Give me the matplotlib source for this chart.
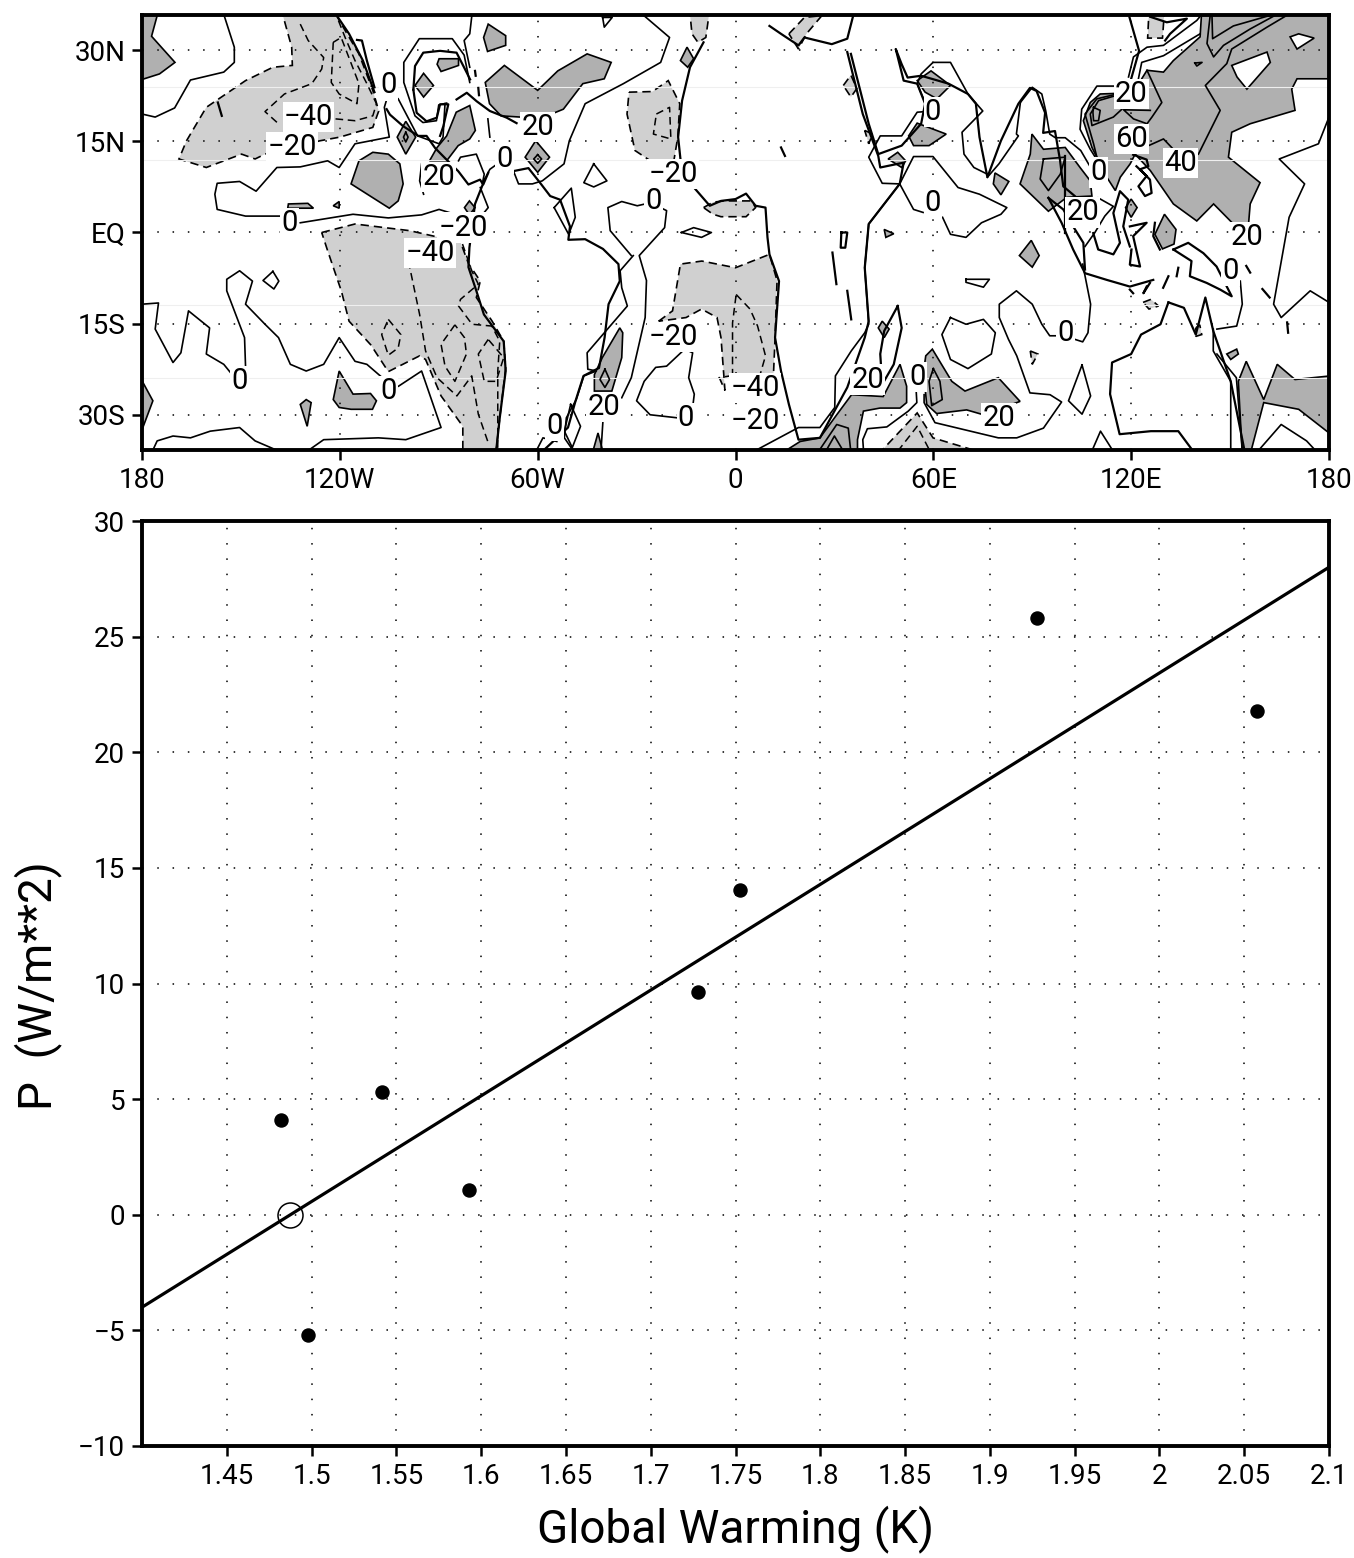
import matplotlib
matplotlib.use("Agg")
import matplotlib.pyplot as plt
from matplotlib.ticker import FixedLocator, NullLocator

plt.rcParams['font.family'] = ['Roboto', 'DejaVu Sans']

W, H = 1354, 1558

# ---------- scatter data ----------
warming = [1.482, 1.498, 1.5415, 1.593, 1.728, 1.7527, 1.928, 2.0575]
power = [4.1, -5.2, 5.3, 1.05, 9.65, 14.05, 25.8, 21.8]
mean_warming = [1.487]
mean_power = [0.0]
fit_x = [1.4, 2.1]
fit_y = [-4.0, 28.0]
xticks_val = [1.45, 1.5, 1.55, 1.6, 1.65, 1.7, 1.75, 1.8, 1.85, 1.9, 1.95, 2.0, 2.05, 2.1]
xticks_lab = ['1.45', '1.5', '1.55', '1.6', '1.65', '1.7', '1.75', '1.8', '1.85', '1.9', '1.95', '2', '2.05', '2.1']
yticks_val = [-10, -5, 0, 5, 10, 15, 20, 25, 30]
yticks_lab = ['\u221210', '\u22125', '0', '5', '10', '15', '20', '25', '30']

# ---------- map axes ----------
lon_ticks = [-180, -120, -60, 0, 60, 120, 180]
lon_labels = ['180', '120W', '60W', '0', '60E', '120E', '180']
lat_ticks = [-30, -15, 0, 15, 30]
lat_labels = ['30S', '15S', 'EQ', '15N', '30N']
faint_lats = [24, 12, -12, -24]

# ---------- light shaded regions (below -20), (lon, lat) ----------
light_regions = [
    [(-137.4,36),(-121.3,36),(-117.8,32.7),(-114.2,29.4),(-110,23.4),(-108.2,20),(-110,17.3),(-120,15.7),(-126,15.1),(-142.7,12.9),(-145.7,12.1),(-149.8,12.9),(-160.5,10.7),(-168.8,12.1),(-166.5,15.1),(-160.5,20.6),(-148.6,25),(-140.3,27.2),(-134.4,27.5),(-134.6,30.5)],
    [(-125.5,0),(-115.4,1.4),(-98.8,0.3),(-83.4,-1.6),(-81,-5.1),(-77.4,-8),(-78.6,-10.7),(-73.8,-14.6),(-70.3,-17.9),(-69.7,-22.3),(-71.5,-30.5),(-72.6,-36),(-82.7,-36),(-82.7,-31.9),(-89.3,-26.9),(-94,-20.9),(-95.8,-20.3),(-105.3,-22.9),(-110.6,-18.5),(-117.2,-14.6),(-119.5,-9.7),(-123.7,-3)],
    [(-32.3,23.1),(-25.2,23.2),(-20.4,25),(-16.9,21.2),(-17.5,15.7),(-18.7,11.8),(-25.8,11.8),(-30.5,13.5),(-32.9,19.5)],
    [(-23.3,-14.6),(-19.1,-12.9),(-16.7,-5.2),(-10.2,-4.7),(0,-5.8),(10.3,-3.6),(12.6,-7.9),(12,-17.3),(11.5,-23.6),(-1.5,-23.6),(-4.9,-23.9),(-3.2,-26),(-4.4,-17.3),(-5.6,-14),(-10.3,-12.6),(-15,-14)],
    [(-13.8,36),(-8,36),(-9,32.1),(-11.4,31.3),(-13.2,32.7)],
    [(16.2,32.7),(20.9,35.4),(26.2,35.7),(21.5,32.7),(19.1,30.2)],
    [(-9.7,4.1),(-6.8,5),(-3.2,5.2),(0,5.2),(4.9,5.2),(6.1,4.1),(3.2,2.6),(0,2.6),(-4.4,2.6),(-6.8,3)],
    [(43.3,-36.5),(55.1,-29.7),(59.9,-33.8),(76.4,-36.5)],
    [(32.7,24.2),(35,25.9),(36.8,23.7),(35,22.3)],
    [(39.2,16.8),(41.6,16.2),(40.4,14.6)],
    [(123.6,-11.5),(126,-11),(128.3,-12.1),(125.4,-12.6)],
    [(89.4,-19.5),(91.7,-20),(90,-21.7)],
    [(125.4,36.5),(130.1,36.5),(129.5,32),(125,32)],
    [(139.6,-15.7),(140.8,-15.2),(141.4,-16.8),(139.6,-17.1)],
]

# ---------- dark shaded regions (above 20) ----------
dark_regions = [
    [(-180.5,36.5),(-175,36.5),(-177.1,32.3),(-170,28),(-174.7,26.1),(-180.5,25.1)],
    [(-180.5,-23.9),(-176.7,-27.7),(-180.5,-33.2)],
    [(-75,34.3),(-69.7,32.4),(-69.7,30.8),(-75.2,29.8),(-76.4,32.1)],
    [(-75.9,24.7),(-70.1,27.5),(-60,23.4),(-53.9,26.6),(-45,29.4),(-37.7,28),(-39.8,25.3),(-46.3,24.5),(-52.2,20.3),(-55.8,19.5),(-65.3,19),(-71.1,19.2),(-74.6,21.2)],
    [(-94.6,26.2),(-91.6,24.2),(-94.6,22.3),(-97.2,24.2)],
    [(-89.9,28.6),(-84,28.6),(-84,27.5),(-89.3,26.5),(-90.5,27.7)],
    [(-84.7,19.8),(-80.6,20.9),(-78.9,16.8),(-80.6,15.4),(-84.1,14.3),(-87.6,11.8),(-92.8,11.8),(-90.5,14),(-87.6,15.9)],
    [(-100,18.3),(-97,15.7),(-100,12.9),(-102.6,15.7)],
    [(-110,13.2),(-105.3,12.9),(-101.8,11.3),(-100.8,8),(-102.3,5.2),(-105,4),(-116.6,8),(-114.2,11.8)],
    [(-135.6,4.7),(-129.7,4.8),(-128,4),(-135.8,4)],
    [(-122,4.4),(-120.2,5.1),(-120.2,4)],
    [(-80.7,5.2),(-79,4.1),(-80.7,2.9),(-82.2,4.1)],
    [(-60.6,15.1),(-56.4,12.4),(-60,9.9),(-63.8,12.4)],
    [(-35.1,-15.7),(-34.2,-16.5),(-34.5,-20.6),(-37.5,-26.1),(-42.8,-26.1),(-42.8,-23.4),(-40.4,-20.6)],
    [(-120.2,-22.8),(-116,-26.6),(-110.7,-26.5),(-108.9,-27.7),(-110.1,-29.1),(-116.6,-29.1),(-120.2,-28.8),(-122,-27.5)],
    [(-130.2,-27.5),(-128.7,-28),(-129.9,-31.9),(-132,-28.3)],
    [(-41.7,-33),(-40,-36.5),(-43.5,-36.5)],
    [(-14.7,30.5),(-12.7,28.6),(-14.5,27.2),(-16.7,28.3)],
    [(59.3,26.6),(65.2,24.2),(61.1,22),(57.5,23.1),(55.1,25)],
    [(55.1,18),(63.9,16.2),(58.7,14.3),(54,14.3),(52.5,15.9)],
    [(49.2,13.2),(51.6,11.8),(50.4,10.7),(46.3,12.1)],
    [(78.7,9.8),(82.9,8.4),(80.5,6.2),(78.2,8)],
    [(89.9,16.2),(93.4,13.7),(100,14),(104.5,10.7),(107.6,8.5),(108.1,6),(100.5,5.8),(94.9,3.5),(86.3,8),(89.4,12.9)],
    [(141.4,36.5),(140.9,32.2),(132.8,28.3),(129.8,26.4),(124.8,26.7),(123.2,25.3),(123.7,22.8),(115.7,22.9),(110.6,22.8),(107.6,21.4),(105.5,18.4),(108.1,14),(112.6,9.1),(115.2,6.9),(116.7,9.1),(119.7,11.3),(121.2,12.9),(125.8,10.2),(132.8,4.7),(139.9,1.9),(145,4.7),(151,1.4),(155.6,1.4),(156.1,4.7),(159.1,8.2),(149.5,12.4),(150.5,16.5),(156.1,17.9),(169.7,20.1),(168.7,23.6),(170.3,25.3),(180.5,25.3),(180.5,36.5)],
    [(13.5,-36.5),(19.6,-34.4),(25.6,-33.8),(30.7,-30),(35.2,-26.7),(44.8,-27),(49.9,-21.7),(51.9,-25.3),(51.9,-28),(49.9,-28.9),(43.8,-28.9),(38.8,-29.4),(37,-34.1),(37,-36.5)],
    [(59.7,-19.2),(65.6,-24.5),(69.6,-26.1),(79.7,-23.9),(86.3,-27.8),(75.2,-30),(70.1,-29.2),(61,-29.8),(58,-28.3),(57,-23.1),(57.7,-20.3)],
    [(89.7,-1.3),(92.1,-3.8),(90,-5.7),(86.1,-3.8)],
    [(152,-19.2),(152.5,-20),(150.2,-20.9),(149,-20)],
    [(44.5,-14.6),(46.6,-15.9),(45.1,-17.3),(43.3,-15.7)],
    [(120,5.5),(121.8,4.1),(120,2.5),(118.3,4.1)],
    [(130.1,3),(133.6,0.5),(133,-1.9),(129.5,-2.7),(127.2,-0.3)],
    [(45.1,0.5),(48,-0.2),(45.6,-0.8)],
    [(154.9,-21.2),(160.2,-27.5),(164.3,-21.7),(169.7,-24.2),(180.5,-23.6),(180.5,-33.2),(170.8,-29.1),(160.2,-28),(156.1,-36.5),(153.7,-36.5),(152.5,-24.5)],
]

# ---------- holes inside the dark field ----------
hole_regions = [
    [(150.5,27.5),(161.2,29.7),(162.2,28),(155.1,23.6),(152.1,25.6)],
    [(168.2,32.2),(170.8,32.7),(175.5,32),(170.3,30.2)],
]

# ---------- solid contours ----------
solid_contours = [
    [(-180,19.5),(-176,19),(-170.1,20.5),(-165.3,25.1),(-155.2,26.4),(-152,28),(-152,30.5),(-155.2,35.9)],
    [(-105.9,21.7),(-106.5,20.6),(-105,15.7),(-115.4,14.6),(-120.2,10.7),(-123.7,11.8),(-132,10.8),(-139.1,10.7),(-145.4,6.8),(-150.4,8.4),(-157.2,8.1),(-157.9,6.3),(-157.2,3.8),(-148.6,2.7),(-137.4,2.7)],
    [(-132,1.6),(-116,3),(-105.3,2.4),(-95.2,2.9),(-89.9,3.8),(-84.5,2.9)],
    [(-80.6,24.7),(-82.3,29.2),(-85.9,31.9),(-95.9,31.9),(-100.6,28),(-100.6,24.7),(-97.2,19.2),(-94.8,18.1),(-90.7,18.4),(-90,21),(-87.6,21.3)],
    [(-79.9,36),(-80.6,32.7),(-82.3,31.6),(-80.6,27.2)],
    [(-102.3,22),(-96.4,15.9),(-89.9,14.6),(-88.7,15.7),(-88.1,21.2)],
    [(-75.1,18.7),(-74.5,15.7)],
    [(-28.2,35.9),(-20,32.1),(-22.7,28),(-34,24.5),(-45.6,21.2),(-50.4,15.1),(-52,11.3),(-58.6,8.5),(-61.6,8),(-65.8,8),(-67.4,10.2)],
    [(-84,11.8),(-83.4,12.4),(-78.6,12.9),(-76.2,9.6),(-76.8,8),(-74.5,10.4),(-72.2,11.3)],
    [(-31.6,-3.8),(-38,0.3),(-38.7,4.1),(-34.5,5.1),(-29.8,4.4),(-27.4,4.7)],
    [(-23.9,4.4),(-20.9,3.6),(-21.5,0.8),(-29.2,-3.8),(-27,-7.9),(-27.4,-14),(-31.6,-23.9),(-34.5,-27.2)],
    [(-31,-3.8),(-35,-6.3),(-34.5,-9.1),(-32.8,-12.1),(-39.3,-16.2),(-45,-19.8),(-44.8,-22.5),(-42.2,-22.8),(-46,-23.6),(-48.3,-27.5),(-51.3,-30.5),(-51.9,-33.8),(-49.5,-35.7)],
    [(-50,-28.3),(-47,-31.9),(-49.5,-35.4),(-51.9,-32.7),(-50,-28.3)],
    [(-40.8,-36),(-40.2,-31)],
    [(-60.2,-35.7),(-58.4,-33.8),(-54.2,-34.4)],
    [(-55,4.1),(-49.8,7.3),(-48.6,2.5),(-50.6,-0.3),(-55,4.1)],
    [(-43,11.3),(-39,8.5),(-43,7.5),(-46,8.2),(-43,11.3)],
    [(-40.3,35.4),(-37.4,35.4),(-39.8,33.8),(-40.3,35.4)],
    [(-16.4,0),(-12.7,0.8),(-7.3,0),(-10.3,-0.8),(-16.4,0)],
    [(-15,-30.5),(-17.7,-30.5),(-25.9,-30),(-30,-27.7),(-27.7,-24.5),(-24.2,-22.2),(-20.9,-22),(-15.4,-19.2),(-13,-19.8),(-14.2,-23.9),(-12.5,-26.6),(-13,-28.8)],
    [(-180,-11.8),(-175,-11.6),(-176,-15.9),(-170.6,-21.4),(-168.2,-19.8),(-165.9,-12.9),(-159.5,-15.7),(-160.5,-20),(-155.2,-21.7),(-152.8,-23.3)],
    [(-148.6,-22),(-148.9,-17.3),(-154.3,-9.6),(-154.3,-7.7),(-150.4,-6.3),(-146.5,-8),(-148.6,-11.8),(-142.7,-15.1),(-138.6,-17.3),(-135,-21.7),(-130.2,-22.8),(-124.9,-21.7),(-120.2,-17.3),(-115.4,-21.2),(-111.8,-21.7),(-107.1,-23.9)],
    [(-102.2,-25.3),(-95.2,-22.8),(-89.3,-32.1),(-100,-34.1),(-108.3,-33.8),(-124.9,-34.1),(-129.1,-35.7)],
    [(-176.6,-35.7),(-175.4,-34.3),(-170.6,-33.5),(-165.3,-33.8),(-159.3,-32.7),(-150.4,-32.1),(-145.7,-34.3),(-139.7,-35.7)],
    [(-140.3,-6.4),(-138.5,-8),(-140,-9.3),(-143.3,-7.9),(-140.3,-6.4)],
    [(-100,16.5),(-99.3,15.7),(-100,14.9),(-100.7,15.7),(-100,16.5)],
    [(-60,12.8),(-58.8,12.1),(-60,11.4),(-61.2,12.1),(-60,12.8)],
    [(-39.6,-22.5),(-38.2,-24.2),(-39.6,-25.5),(-41.1,-24.2),(-39.6,-22.5)],
    [(-95.2,11.3),(-95.8,8.5),(-94.6,6.3)],
    [(-77.4,7.4),(-75,4.1),(-77.4,2.5)],
    [(57.5,19.9),(55.1,19.8),(50.4,15.9),(43.9,15.9),(40.4,12.4),(44.5,8.1),(49.8,8),(54,3.8),(56.9,3.3)],
    [(62.8,2.5),(65.2,-0.3),(69.9,-0.8),(74.6,1.6),(80.5,3),(82.3,4.1),(74,6.3),(67.5,7.4),(59.9,12.5),(54,12.5),(49.8,8),(40.4,1.4),(39.2,-5.8),(40.4,-15.1),(39.2,-16.5),(35.1,-19.5),(30.3,-23.6),(30.1,-28.8),(25.6,-32.1),(19.1,-32.1),(6.7,-35.7)],
    [(25.6,-35.7),(30.7,-31.6),(34.2,-32.2),(34.9,-35.7)],
    [(27.7,-35.7),(30,-33.5),(32.4,-35.7)],
    [(60,-22.4),(62,-24.5),(62.7,-27.5),(59.5,-28.5),(58.7,-24.5),(60,-22.4)],
    [(57.2,-26.7),(57.2,-28),(60.5,-31.3),(79.7,-33.8),(85.3,-33.8),(93.4,-32.2),(98.9,-27.9),(95.4,-26.7),(89.3,-26.4),(85.3,-20.3),(82.8,-17.6),(80,-14),(80,-11.8),(85.2,-9.6),(90,-11.8),(92.9,-15.1),(95.3,-17),(97.6,-17)],
    [(103,-17.6),(105.3,-18),(106.9,-16.5),(107.7,-11.8),(105.3,-5.2)],
    [(54.8,-26.1),(55,-28),(52.4,-29.4),(45.9,-32),(40,-32.3),(38.6,-34.1),(38.8,-35.7)],
    [(65.2,-14),(69.9,-15.1),(75.2,-14.3),(78.8,-16.5),(77.6,-20),(70.5,-22.4),(65.2,-20.9),(62.6,-16.8),(65.2,-14)],
    [(105.1,-21.8),(107.7,-26.9),(105.1,-29.9),(101,-27.7),(105.1,-21.8)],
    [(69.9,-7.7),(77,-7.7),(75.2,-9),(69.9,-8.2),(69.9,-7.7)],
    [(153.1,-8),(153.7,-11.8),(152,-15.4),(146,-15.9)],
    [(144.9,-15.9),(144.9,-19.5),(150.2,-24.5),(150.2,-35.7)],
    [(146,-20),(151.9,-23.9),(153.7,-35.7)],
    [(158.9,-35.7),(165.5,-31.6),(173.2,-34.3),(175.6,-35.7)],
    [(180,19),(176.8,14.6),(164.9,12.1),(172.6,8),(167.9,2.5),(163.2,-11.8),(165.5,-14),(174.3,-9.6),(180,-11.5)],
    [(108.3,-35.7),(110.7,-32.7),(114.2,-35.7)],
    [(86.4,21.4),(90,23.9),(92.9,22.8),(94.1,20),(95.3,16.2),(97,15.6),(100,15.6),(104.7,13.5),(107.7,10.7)],
    [(86.4,21.4),(85.2,16.2),(85.8,15.9),(79.9,11.3),(76.4,9.1)],
    [(59.9,28),(65.2,28),(70.5,22.8),(75,20),(68.7,16.5),(69.3,12.9),(72.3,10.7),(76.4,9.6)],
    [(59.9,28),(56.3,26.1),(55.1,24.5),(57.5,21.4)],
    [(110,5.7),(114.6,4.3),(112,2.7),(109,0),(106,-2.3)],
    [(144,35.9),(143,31.1),(145,28.9),(148,30.8),(156.1,33.5),(164.2,35.9)],
    [(144.5,35.9),(144.7,31.9),(151,34),(163.2,35.9)],
    [(140.4,12.9),(147,20.1),(142.5,24.2),(149,27.8),(150.5,30.2),(161.2,33.8),(167.7,35.9)],
    [(125.3,14.3),(129.8,15.4),(132.8,13.7)],
    [(124.8,26.7),(129.3,21.4),(126.3,19),(124.8,17.9),(120.7,18.7),(117.7,20.2),(125.8,20.1)],
    [(115.7,22.8),(109.6,22),(106,19.5),(108.6,14.6),(109.6,12.4)],
    [(115.1,22.5),(110.1,21.7),(107.6,19.5),(108.1,17.6),(114.6,19),(117.2,20.3)],
    [(108.6,20.6),(110.6,20.1),(110.1,18.4),(108.6,18.4),(108.4,19.8),(108.6,20.6)],
    [(115.2,24.1),(109.6,24.1),(105,20.3),(104.5,17),(107.6,13.7),(109.1,12.4)],
    [(93.4,12.1),(100,12.4),(98.5,9.6),(94.9,6.9),(92.4,8.8),(93.4,12.1)],
    [(119.2,25.6),(120.7,28.9),(124.8,30.5),(129.8,30.8),(139.9,34.9),(141.4,35.9)],
    [(122.2,25.3),(123.2,28),(129.8,29.1),(140.9,32.7)],
    [(139.3,27.9),(141.5,28),(139.9,27.4),(139.3,27.9)],
]

# ---------- dashed contours ----------
dashed_contours = [
    [(-132,34.3),(-129.6,31.6),(-124.9,28.8),(-125.5,26.9),(-128.5,24.5),(-136.8,22.8),(-142.7,19.9),(-138.6,17.9)],
    [(-121.3,18.7),(-115.4,18.4),(-110,19.2),(-108.9,21.2),(-111.8,24.5),(-115.4,28.3),(-118.4,32.1),(-120.8,35.4)],
    [(-122,31.3),(-122.6,24.7),(-120.2,22.8),(-114.8,21.2),(-114.2,24.5),(-119.6,32.1),(-122,31.3)],
    [(-24,19.5),(-20,20.6),(-19.6,15.4),(-24.9,16.2),(-24,19.5)],
    [(-99.2,-4.7),(-95.8,-13.5),(-94,-19.5),(-90.5,-23.9),(-84.5,-26.9),(-80,-23.6),(-78,-29.9),(-75,-34.6)],
    [(-82.8,-1.9),(-80,-6.3),(-78,-8.5),(-83.4,-11),(-84,-12.1),(-79.9,-15.1),(-73.9,-15.4),(-71.5,-17.9),(-72.1,-22.8),(-72.1,-35.5)],
    [(-105.3,-14.3),(-101.5,-16.8),(-102.3,-19),(-105.3,-20.2),(-107.3,-16.8),(-105.3,-14.3)],
    [(-85.1,-15.2),(-89.3,-18.4),(-88.1,-22),(-85.1,-24.5),(-81.6,-20),(-82.2,-17.3),(-85.1,-15.2)],
    [(-75,-17.6),(-78,-20),(-76.2,-24.5),(-72.6,-24.5),(-70.3,-20.6),(-75,-17.6)],
    [(0.2,-10.2),(4.4,-12.6),(6.7,-15.4),(9.1,-20.3),(7.3,-23.7)],
    [(-0.9,-23.7),(-0.9,-14.9),(0.2,-10.2)],
    [(49.2,-36),(55.1,-31.9),(59,-36)],
]

# ---------- coastlines ----------
coastlines = [
    [(-121.3,36),(-117.2,32.7),(-113,28.3),(-109.5,23.1)],
    [(-114.8,31.7),(-113.3,31.6),(-111.8,28.3),(-109.5,23.9)],
    [(-105.8,20.3),(-104.8,19.4),(-100.8,17.5),(-96.2,15.9),(-93.7,15.9),(-91.1,13.9),(-87.1,11.7),(-84.1,10.1),(-81,7.9),(-77.5,8.7),(-76.5,7.9),(-75,9.8)],
    [(-67.4,10.1),(-62.8,10.6),(-59.3,8.2),(-56.2,6),(-53.2,5.4),(-50.2,1),(-50.7,-1.2),(-45.6,-1.1),(-40.2,-2.7),(-35.5,-5.2),(-35.1,-8),(-38.5,-11.8),(-39.7,-17.3),(-41.4,-22.3),(-46.1,-23.6),(-48.5,-27.7),(-50.8,-32.1),(-57.9,-35.7)],
    [(-97.7,23.5),(-97.2,27.4),(-94.7,29.6),(-89.6,29.9),(-84.6,29.6),(-81.5,26.3),(-80.5,25.2)],
    [(-97.7,23.5),(-96.7,19.7),(-93.7,18.3),(-90.6,18.9),(-89.6,21.1),(-87.1,21.1),(-88.6,17.5),(-89.6,15.9)],
    [(-84.6,21.9),(-81.5,23),(-78.5,21.6),(-74.5,20),(-69.4,18.9),(-66.4,18)],
    [(-79,26.6),(-78.8,25.8)],
    [(-78,23.8),(-77.8,22.6)],
    [(-76.8,7.7),(-79,4.7),(-80.7,-2.5),(-81,-5.7),(-78.6,-9.6),(-76.3,-13.5),(-70.3,-17.9),(-69.7,-22.8),(-71.5,-30.5),(-72.6,-36)],
    [(-9.7,31.3),(-13.8,27.2),(-16.2,21.7),(-17.4,15.7),(-16.7,12.1),(-12.6,7.4),(-7.8,4.4),(-4.4,5.2),(0,5.5),(3.2,6.4),(6.1,4.4),(9.1,4.1),(9.7,-0.8),(10.3,-3.6),(13.2,-8),(12,-17.3),(13.8,-22.8),(16.2,-28.3),(19.1,-34.1),(25.6,-33.8),(33.9,-25.5),(39.2,-17.3),(40.4,-14.6),(39.2,-5.8),(40.4,1.4),(49.8,8),(51,11.5),(43.9,10.7),(43.3,12.6),(38.6,19.5),(33.9,29.7)],
    [(10.3,34),(13.8,32.7),(19.1,30.8),(20.9,32.1),(29.2,31),(33.9,31.9),(35.7,35.7)],
    [(35,29.4),(40.4,17.9),(43.3,12.9),(50.4,14.3),(56.3,17.9),(57.5,21.2),(55.1,24.5),(51,25),(48.6,30.2),(50.4,27.7),(52.2,25.5),(56.3,25.8),(64.6,24.5),(70.5,22.8),(72.9,21.2),(74,15.7),(76.4,9.1),(80.5,15.1),(85.8,21.2),(89.3,23.8),(91.3,23.3),(93.9,19.7),(93.3,16.4),(96.9,16.7),(98.4,12),(99.4,7.6),(102.9,6)],
    [(99.9,12.6),(99.9,-0.1)],
    [(94.9,5.7),(98.9,1.6),(102.4,-2.8),(106,-6.7),(112.6,-7.8),(119.6,-8.9),(126.7,-7.8)],
    [(94.9,5.7),(99.4,3.8),(102.4,1),(105.5,-1.7),(106,-6.1)],
    [(108.5,-0.1),(110,-2.8),(114.6,-3.6),(116.6,-1.7),(114.6,3.2),(116.6,6.8),(119.1,5.4),(117.6,1),(119.6,-2.3)],
    [(119.6,1),(124.7,1.6),(120.6,-0.6),(122.7,-5.6),(119.6,-5.3),(120.1,-2.8)],
    [(120.6,12.8),(124.7,12),(125.2,10.9),(122.7,10.4),(125.7,8.7),(126.2,6.5),(124.2,6),(122.2,7.6),(124.7,9.3),(121.6,10.9)],
    [(127.2,1.6),(126.7,-0.6),(128.7,-2.8)],
    [(132.8,-2.8),(137.3,-1.7),(141.9,-3.4),(145.9,-5.6),(147.4,-7.2),(150.5,-10.5),(147,-9.4),(142.9,-8.3),(137.8,-7.2),(138.3,-4.7),(132.8,-2.8)],
    [(131.3,-7.2),(129.7,-9.1)],
    [(125.7,-8.3),(123.7,-10),(124.7,-8.9)],
    [(119.6,-9.4),(120.6,-10)],
    [(131.3,-11.5),(136,-12.4),(139.6,-16.8),(142.5,-10.7),(144.9,-16.2),(150.2,-24.5),(154.3,-35.7)],
    [(131.3,-11.5),(128.9,-15.1),(123,-16.8),(120,-20),(114.2,-21.4),(113.6,-26.6),(116.5,-33.2),(126,-32.7),(134.3,-32.7),(138.4,-35.7)],
    [(49.2,-12.1),(50.4,-15.7),(48,-21.7),(44.5,-25),(43.9,-20),(45.1,-16.2),(49.2,-12.1)],
    [(-157,21.4),(-155.8,19.2)],
    [(119.5,35.4),(122.4,29.9),(120,25.3)],
    [(125.8,35.5),(130.8,34.6),(136.9,35.2),(131.8,32.7),(130.3,31.6)],
    [(29.4,-3.3),(30.6,-8.5)],
    [(33.9,-9.6),(35.1,-14.3)],
    [(32.1,0),(33.9,0),(33.3,-2.5),(31.9,-2.5),(32.1,0)],
    [(13.8,14),(15,12.6)],
    [(134.3,-5.8),(133.8,-7.2)],
    [(154.9,-5.5),(156.1,-6.6)],
    [(159.8,-9.3),(162,-10.7)],
    [(167.3,-14.8),(167.6,-16.5)],
]

# ---------- contour labels ----------
label_texts = ['0','\u221240','\u221220','20','0','20','\u221220','0','0','\u221220','\u221240','\u221220','0','0','20','0','0',
               '20','0','60','40','0','20','0','20','0','0','20','0','\u221240','\u221220','20']
label_lons = [-105.3,-129.5,-134.4,-60,-70,-90,-18.9,-24.9,-135.3,-82.7,-92.7,-18.9,-150.4,-105.3,-39.9,-55,-15,
              120,59.9,120,135,110,105.3,59.9,155.1,150.2,100,40.1,55.1,6,6,79.9]
label_lats = [24.2,19,14.1,17.4,12.1,9.1,9.6,5.2,1.6,0.8,-3.4,-17.2,-24.5,-26.1,-28.7,-31.9,-30.5,
              22.8,19.8,15.4,11.4,9.9,3.3,4.8,-0.8,-6.3,-16.5,-24.2,-23.8,-25.6,-31,-30.5]

LIGHT, DARK = '#d0d0d0', '#b0b0b0'
GRID = (0, (1.0, 9.0))


def unzip(path):
    return [p[0] for p in path], [p[1] for p in path]


fig = plt.figure(figsize=(W / 100, H / 100), dpi=100, facecolor='white')


def axes_px(left, top, right, bottom):
    return fig.add_axes([left / W, 1 - bottom / H, (right - left) / W, (bottom - top) / H])


def style(ax):
    for s in ax.spines.values():
        s.set_linewidth(2.8)
    ax.tick_params(direction='out', length=7, width=1.8, labelsize=20, pad=5,
                   top=False, right=False)


# ---- map ----
ax = axes_px(142, 15, 1329, 450)
ax.set_xlim(-180, 180)
ax.set_ylim(-35.8, 35.8)
for p in light_regions:
    x, y = unzip(p)
    ax.fill(x, y, facecolor=LIGHT, edgecolor='black', lw=1.2, ls=(0, (5, 3)), zorder=1)
for p in dark_regions:
    x, y = unzip(p)
    ax.fill(x, y, facecolor=DARK, edgecolor='black', lw=1.2, zorder=2)
for p in hole_regions:
    x, y = unzip(p)
    ax.fill(x, y, facecolor='white', edgecolor='black', lw=1.2, zorder=2.1)
for lat in faint_lats:
    ax.axhline(lat, color='#efefef', lw=0.8, zorder=2.2)
ax.xaxis.set_major_locator(FixedLocator(lon_ticks))
ax.set_xticklabels(lon_labels)
ax.yaxis.set_major_locator(FixedLocator(lat_ticks))
ax.set_yticklabels(lat_labels)
ax.grid(True, color='black', lw=1.1, ls=GRID, zorder=2.5)
ax.set_axisbelow(False)
for c in solid_contours:
    x, y = unzip(c)
    ax.plot(x, y, color='black', lw=1.2, zorder=3)
for c in dashed_contours:
    x, y = unzip(c)
    ax.plot(x, y, color='black', lw=1.1, ls=(0, (5, 3)), zorder=3)
for c in coastlines:
    x, y = unzip(c)
    ax.plot(x, y, color='black', lw=1.6, zorder=4)
for t, lo, la in zip(label_texts, label_lons, label_lats):
    ax.text(lo, la, t, fontsize=21, ha='center', va='center', zorder=5,
            bbox=dict(facecolor='white', edgecolor='none', pad=0.8))
style(ax)

# ---- scatter ----
bx = axes_px(142, 521, 1329, 1446)
bx.set_xlim(1.4, 2.1)
bx.set_ylim(-10, 30)
bx.xaxis.set_major_locator(FixedLocator(xticks_val))
bx.set_xticklabels(xticks_lab)
bx.yaxis.set_major_locator(FixedLocator(yticks_val))
bx.set_yticklabels(yticks_lab)
bx.xaxis.set_minor_locator(NullLocator())
bx.grid(True, color='black', lw=1.1, ls=GRID, zorder=1)
bx.plot(fit_x, fit_y, color='black', lw=2.3, zorder=3)
bx.plot(warming, power, ls='none', marker='o', ms=9.4, mfc='black', mec='black', zorder=4)
bx.plot(mean_warming, mean_power, ls='none', marker='o', ms=18, mfc='none', mec='black', mew=1.1, zorder=4)
style(bx)
bx.set_xlabel('Global Warming (K)', fontsize=33, va='center')
bx.xaxis.set_label_coords(0.5, (1446 - 1529) / 925)
bx.set_ylabel('P  (W/m**2)', fontsize=33)
bx.yaxis.set_label_coords((62 - 142) / 1187, 0.498)

fig.savefig('out.png', dpi=100, facecolor='white')
